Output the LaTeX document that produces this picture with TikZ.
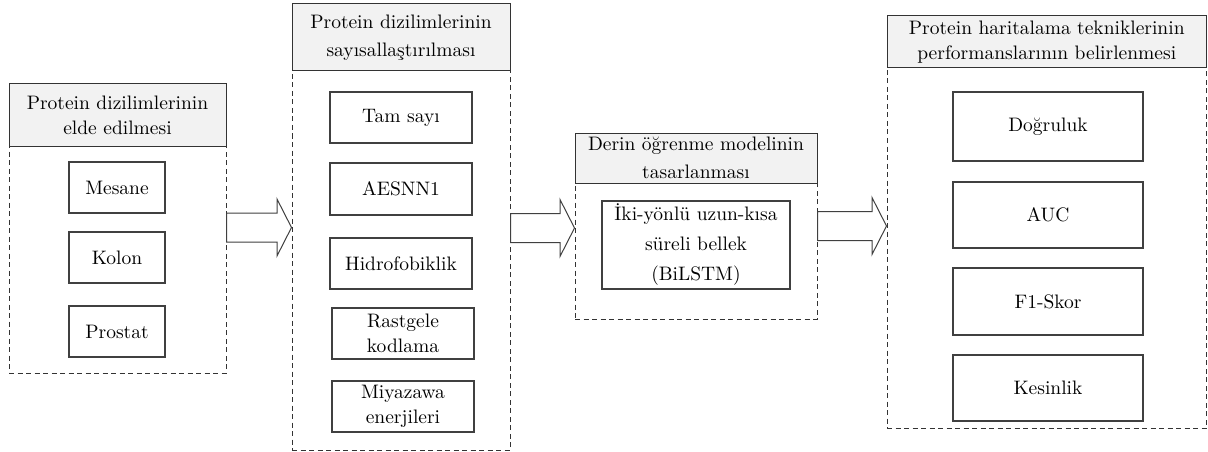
\documentclass[tikz,border=0pt]{standalone}
\usepackage{fontspec}
\setmainfont{lmroman10-regular}[Extension=.otf]
\usetikzlibrary{calc}
\definecolor{hdr}{HTML}{F2F2F2}
\definecolor{ln}{HTML}{333333}
\definecolor{bx}{HTML}{404040}
\newcommand\blockarr[3]{%
  \draw[blockarrow] let \p1=(#1.east), \p2=(#2.west), \p3=(0,#3) in
    (\x1,\y3+14.5pt) -- (\x2-14.5pt,\y3+14.5pt) -- (\x2-14.5pt,\y3+28.5pt) --
    (\x2,\y3) -- (\x2-14.5pt,\y3-28.5pt) -- (\x2-14.5pt,\y3-14.5pt) --
    (\x1,\y3-14.5pt) -- cycle;}
\begin{document}
\begin{tikzpicture}[x=1pt,y=-1pt,
  font=\rmfamily\fontsize{19.5}{25}\selectfont,
  group/.style={draw=ln, line width=1pt, dash pattern=on 5pt off 3.5pt, inner sep=0pt},
  header/.style={draw=ln, fill=hdr, line width=1pt, inner sep=0pt, align=center},
  item/.style={draw=bx, line width=1.2pt, inner sep=0pt, align=center},
  blockarrow/.style={draw=bx, line width=1pt, fill=white, line join=miter}]
\useasboundingbox (0,0) rectangle (1208,452);

% group 1
\node[group, minimum width=217pt, minimum height=289pt] (g1) at (117.5,228.5) {};
\node[header, minimum width=217pt, minimum height=62pt] (h1) at (117.5,115) {Protein dizilimlerinin\\elde edilmesi};
\node[item, minimum width=96pt, minimum height=51pt] (mesane) at (117,187.5) {Mesane};
\node[item, minimum width=96pt, minimum height=51pt] (kolon) at (117,257.5) {Kolon};
\node[item, minimum width=96pt, minimum height=51pt] (prostat) at (117,331.5) {Prostat};

% group 2
\node[group, minimum width=218pt, minimum height=446pt] (g2) at (401,227) {};
\node[header, minimum width=218pt, minimum height=67pt, font=\rmfamily\fontsize{19.5}{28.5}\selectfont] (h2) at (401,37.5) {Protein dizilimlerinin\\sayısallaştırılması};
\node[item, minimum width=142pt, minimum height=51pt] (tam) at (401,117.5) {Tam sayı};
\node[item, minimum width=142pt, minimum height=52pt] (aes) at (401,189) {AESNN1};
\node[item, minimum width=142pt, minimum height=51pt] (hid) at (401,263.5) {Hidrofobiklik};
\node[item, minimum width=142pt, minimum height=51pt] (ras) at (403,333.5) {Rastgele\\kodlama};
\node[item, minimum width=142pt, minimum height=51pt] (miy) at (403,406.5) {Miyazawa\\enerjileri};

% group 3
\node[group, minimum width=242pt, minimum height=186pt] (g3) at (696,226) {};
\node[header, minimum width=242pt, minimum height=50pt, font=\rmfamily\fontsize{19.5}{28}\selectfont] (h3) at (696,158) {Derin öğrenme modelinin\\tasarlanması};
\node[item, minimum width=188pt, minimum height=88pt, font=\rmfamily\fontsize{19.5}{30}\selectfont] (bil) at (696,245) {İki-yönlü uzun-kısa\\süreli bellek\\(BiLSTM)};

% group 4
\node[group, minimum width=319.5pt, minimum height=412pt] (g4) at (1046.75,222) {};
\node[header, minimum width=319.5pt, minimum height=52pt] (h4) at (1046.75,42) {Protein haritalama tekniklerinin\\performanslarının belirlenmesi};
\node[item, minimum width=190pt, minimum height=69pt] (dog) at (1048,126.5) {Doğruluk};
\node[item, minimum width=190pt, minimum height=66pt] (auc) at (1048,215) {AUC};
\node[item, minimum width=190pt, minimum height=67pt] (f1) at (1048,301.5) {F1-Skor};
\node[item, minimum width=190pt, minimum height=66pt] (kes) at (1048,388) {Kesinlik};

% arrows
\blockarr{g1}{g2}{227.5}
\blockarr{g2}{g3}{228}
\blockarr{g3}{g4}{226}
\end{tikzpicture}
\end{document}
